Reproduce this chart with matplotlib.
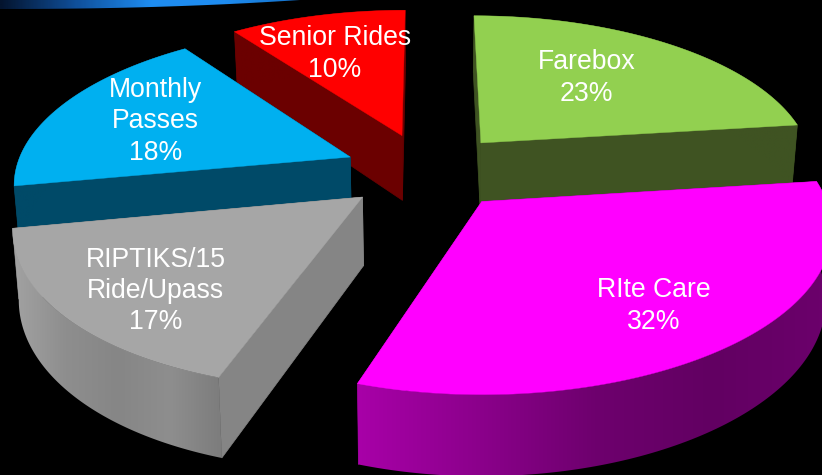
import numpy as np
import matplotlib
matplotlib.use('Agg')
import matplotlib.pyplot as plt
from matplotlib.colors import LinearSegmentedColormap
from matplotlib.patches import Polygon

names = ['Farebox', 'RIte Care', 'RIPTIKS/15\nRide/Upass', 'Monthly\nPasses', 'Senior Rides']
shares = [23, 32, 17, 18, 10]

top_colors = ['#92D050', '#FF00FF', '#A6A6A6', '#00B0F0', '#FF0000']
wall_colors = ['#3F5322', '#990099', '#858585', '#004A68', '#6B0000']
# shading of the rim, left to right
rim_stops = [
    ['#3F5322', '#3F5322'],
    ['#A800A8', '#8C008C', '#6E006E', '#620062', '#6C006C'],
    ['#A2A2A2', '#8E8E8E', '#868686', '#8E8E8E', '#7C7C7C'],
    ['#004A68', '#004A68'],
    ['#6B0000', '#6B0000'],
]
label_pos = [(586.5, 78), (653.5, 306), (155.5, 291), (155.5, 121.5), (335, 54)]
draw_order = [4, 3, 0, 2, 1]

# perspective of the pie, in pixels
cx, cy = 427, 171
rx, ry = 335, 154
persp = 0.15
depth = 67
taper = 0.015
front_lean = 2e-4
explode = 0.25


def project(X, Y):
    w = 1 + persp * Y
    x = cx + rx * X / w
    y = cy - ry * Y / w
    # the near half of the pie leans a little to the left
    x = x - front_lean * np.maximum(y - cy, 0) ** 2
    return x, y, w


def drop(x, y, w):
    return cx + (x - cx) * (1 - taper), y + depth / w


def slice_points(start, end):
    mid = np.radians((start + end) / 2)
    ox, oy = explode * np.sin(mid), explode * np.cos(mid)
    theta = np.radians(np.linspace(start, end, 120))
    ax_, ay_, aw = project(ox, oy)
    xs, ys, ws = project(ox + np.sin(theta), oy + np.cos(theta))
    return (ax_, ay_, aw), xs, ys, ws


fig = plt.figure(figsize=(8.22, 4.75), dpi=100, facecolor='black')
ax = fig.add_axes([0, 0, 1, 1])
ax.axis('off')

# banner sliver along the top edge
bar_cmap = LinearSegmentedColormap.from_list('bar', ['#04142E', '#0F4F9A', '#1E8CF0', '#1E8CF0', '#1470C8'])
bar = ax.imshow(np.linspace(0, 1, 300).reshape(1, -1), cmap=bar_cmap, extent=(0, 300, 9, 0), aspect='auto', zorder=1)
bar_x = np.linspace(0, 300, 40)
bar_clip = Polygon(list(zip(bar_x, 9 - 9 * (bar_x / 300) ** 2.2)) + [(300, 0), (0, 0)], transform=ax.transData)
bar.set_clip_path(bar_clip)

bounds = np.cumsum([0] + shares) * 3.6
z = 2

for i in draw_order:
    (ax0, ay0, aw), xs, ys, ws = slice_points(bounds[i], bounds[i + 1])
    bx0, by0 = drop(ax0, ay0, aw)
    bxs, bys = drop(xs, ys, ws)

    # the two straight cut faces
    for k in (0, -1):
        wall = [(ax0, ay0), (xs[k], ys[k]), (bxs[k], bys[k]), (bx0, by0)]
        ax.add_patch(Polygon(wall, fc=wall_colors[i], ec=wall_colors[i], lw=0.5, zorder=z))
    z += 1

    # rim, a left to right gradient clipped to the band below the arc
    rim = list(zip(xs, ys)) + list(zip(bxs[::-1], bys[::-1]))
    rim_cmap = LinearSegmentedColormap.from_list('rim%d' % i, rim_stops[i])
    left, right = min(xs.min(), bxs.min()), max(xs.max(), bxs.max())
    im = ax.imshow(np.linspace(0, 1, 256).reshape(1, -1), cmap=rim_cmap, aspect='auto', zorder=z,
                   extent=(left, right, bys.max(), ys.min()))
    im.set_clip_path(Polygon(rim, transform=ax.transData))
    z += 1

    ax.add_patch(Polygon([(ax0, ay0)] + list(zip(xs, ys)), fc=top_colors[i], ec=top_colors[i], lw=0.3, zorder=z))
    z += 1

for name, share, (lx, ly) in zip(names, shares, label_pos):
    ax.text(lx, ly, '%s\n%d%%' % (name, share), color='white', ha='center', va='center', zorder=z,
            family='Liberation Sans', fontsize=19.2, linespacing=1.27)

ax.set_xlim(0, 822)
ax.set_ylim(475, 0)
fig.savefig('out.png', dpi=100, facecolor='black')
